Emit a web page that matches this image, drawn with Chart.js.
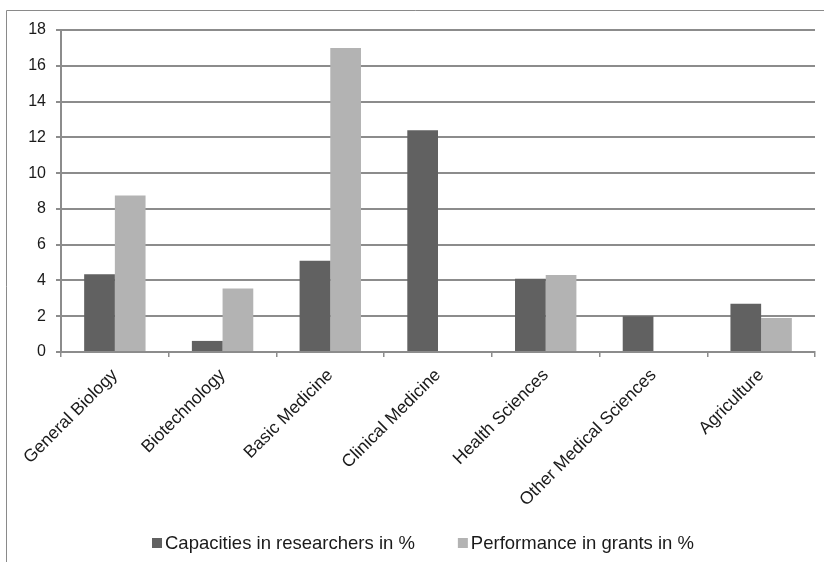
<!DOCTYPE html>
<html>
<head>
<meta charset="utf-8">
<script src="https://cdn.jsdelivr.net/npm/chart.js@4/dist/chart.umd.min.js"></script>
<style>
  html, body { margin: 0; padding: 0; background: #fff; }
  canvas { display: block; }
</style>
</head>
<body>
<canvas id="chart" width="824" height="562"></canvas>
<script>
// Research fields
const categories = [
  'General Biology', 'Biotechnology', 'Basic Medicine', 'Clinical Medicine',
  'Health Sciences', 'Other Medical Sciences', 'Agriculture'
];
// Share of researchers per field, %
const capacities = [4.35, 0.62, 5.1, 12.4, 4.1, 2.0, 2.7];
// Share of grants per field, %
const performance = [8.75, 3.55, 17.0, 0, 4.3, 0, 1.9];
// Y axis range and step
const yTicks = [0, 2, 4, 6, 8, 10, 12, 14, 16, 18];

const FAMILY = "'Liberation Sans', Arial, sans-serif";
Chart.defaults.font.family = FAMILY;
Chart.defaults.font.size = 16;
Chart.defaults.color = '#1a1a1a';

// Thin frame around the chart (left and top edges visible)
const framePlugin = {
  id: 'frame',
  beforeDraw(chart) {
    const ctx = chart.ctx;
    ctx.save();
    ctx.fillStyle = '#ffffff';
    ctx.fillRect(0, 0, chart.width, chart.height);
    ctx.strokeStyle = '#8a8a8a';
    ctx.lineWidth = 1;
    ctx.beginPath();
    ctx.moveTo(6.5, chart.height + 2);
    ctx.lineTo(6.5, 10.5);
    ctx.lineTo(chart.width + 2, 10.5);
    ctx.stroke();
    ctx.restore();
  }
};

// Compact legend row under the axis labels: square swatch tight against its text
const legendRowPlugin = {
  id: 'legendRow',
  afterDraw(chart, args, opts) {
    const ctx = chart.ctx;
    const sets = chart.data.datasets;
    const box = opts.box, gap = opts.gap, spacing = opts.spacing;
    ctx.save();
    ctx.font = opts.size + 'px ' + FAMILY;
    ctx.textBaseline = 'middle';
    ctx.textAlign = 'left';
    const widths = sets.map(d => box + gap + ctx.measureText(d.label).width);
    const total = widths.reduce((a, b) => a + b, 0) + spacing * (sets.length - 1);
    let x = opts.centerX - total / 2;
    const y = opts.y;
    sets.forEach((d, i) => {
      ctx.fillStyle = d.backgroundColor;
      ctx.fillRect(x, y - box / 2, box, box);
      ctx.fillStyle = '#1a1a1a';
      ctx.fillText(d.label, x + box + gap, y + 1);
      x += widths[i] + spacing;
    });
    ctx.restore();
  }
};

new Chart(document.getElementById('chart'), {
  type: 'bar',
  data: {
    labels: categories,
    datasets: [
      {
        label: 'Capacities in researchers in %',
        data: capacities,
        backgroundColor: '#616161',
        borderWidth: 0
      },
      {
        label: 'Performance in grants in %',
        data: performance,
        backgroundColor: '#b3b3b3',
        borderWidth: 0
      }
    ]
  },
  options: {
    responsive: false,
    animation: false,
    events: [],
    layout: { padding: { left: 0, right: 9, top: 30, bottom: 40 } },
    datasets: {
      bar: { categoryPercentage: 0.57, barPercentage: 1.0 }
    },
    scales: {
      x: {
        offset: true,
        grid: {
          display: true,
          drawOnChartArea: false,
          drawTicks: true,
          tickLength: 5,
          color: '#8c8c8c',
          lineWidth: 1.5,
          offset: true
        },
        border: { color: '#8c8c8c', width: 2 },
        ticks: {
          minRotation: 45,
          maxRotation: 45,
          autoSkip: false,
          padding: 8,
          font: { size: 17.5 }
        },
        afterFit(scale) { scale.height = 170; }
      },
      y: {
        min: yTicks[0],
        max: yTicks[yTicks.length - 1],
        afterBuildTicks(scale) { scale.ticks = yTicks.map(v => ({ value: v })); },
        grid: {
          color: '#8c8c8c',
          lineWidth: 2,
          tickLength: 5
        },
        border: { color: '#8c8c8c', width: 2 },
        ticks: { padding: 10 },
        afterFit(scale) { scale.width = 61; }
      }
    },
    plugins: {
      legend: { display: false },
      tooltip: { enabled: false },
      legendRow: { box: 10, gap: 3, spacing: 43, size: 18.5, centerX: 423, y: 543 }
    }
  },
  plugins: [framePlugin, legendRowPlugin]
});
</script>
</body>
</html>
